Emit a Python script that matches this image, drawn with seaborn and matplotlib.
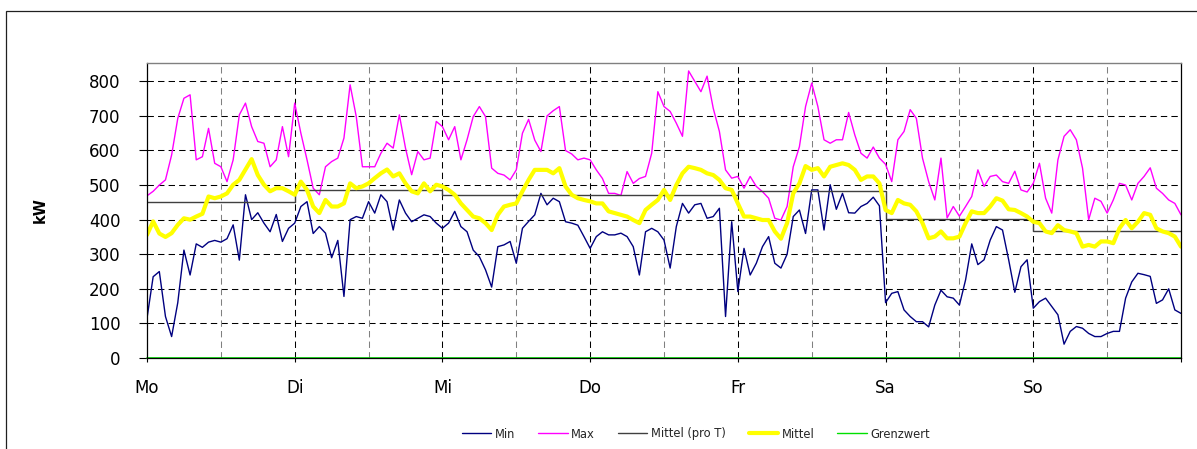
import numpy as np
import matplotlib
matplotlib.use("Agg")
import matplotlib.pyplot as plt
import seaborn as sns
from matplotlib.patches import Rectangle
from matplotlib.lines import Line2D

sns.set_style("white")
plt.rcParams["font.family"] = ["DejaVu Sans"]
plt.rcParams["lines.scale_dashes"] = False

# ---------------- data (kW, hourly, Mo 00:00 .. So 24:00) ----------------
day_labels = ["Mo", "Di", "Mi", "Do", "Fr", "Sa", "So"]

min_mo = [115, 235, 250, 120, 62, 160, 312, 240, 330, 320, 335, 340, 335, 345, 385, 283, 472, 400, 420, 390, 365, 415, 337, 375]
min_di = [390, 438, 452, 360, 380, 361, 290, 340, 178, 400, 409, 404, 452, 419, 472, 452, 370, 457, 419, 394, 404, 414, 409, 390]
min_mi = [375, 390, 424, 380, 365, 312, 293, 255, 205, 322, 327, 337, 274, 375, 395, 414, 476, 443, 462, 452, 394, 390, 384, 351]
min_do = [317, 351, 365, 356, 356, 361, 351, 322, 240, 365, 375, 365, 341, 260, 380, 447, 419, 443, 447, 404, 409, 433, 120, 394]
min_fr = [192, 317, 240, 274, 322, 351, 274, 260, 300, 409, 428, 360, 486, 486, 370, 501, 430, 476, 420, 419, 438, 447, 465, 440]
min_sa = [160, 187, 192, 139, 120, 105, 105, 90, 153, 196, 177, 173, 153, 226, 330, 270, 284, 341, 380, 370, 284, 190, 264, 284]
min_so = [144, 163, 173, 149, 125, 40, 77, 91, 86, 71, 62, 62, 71, 77, 77, 173, 220, 245, 241, 236, 158, 168, 200, 139, 129]

max_mo = [469, 482, 500, 515, 587, 693, 751, 761, 573, 582, 664, 563, 553, 510, 573, 703, 737, 669, 626, 621, 553, 573, 669, 582]
max_di = [737, 650, 573, 491, 472, 553, 568, 578, 636, 790, 698, 553, 553, 553, 592, 621, 607, 703, 607, 530, 597, 573, 578, 684]
max_mi = [669, 631, 669, 573, 631, 698, 727, 698, 549, 534, 529, 515, 544, 650, 690, 630, 597, 700, 715, 727, 600, 590, 573, 578]
max_do = [573, 544, 519, 476, 476, 470, 539, 505, 519, 525, 592, 770, 727, 713, 679, 641, 830, 800, 770, 815, 722, 655, 544, 520]
max_fr = [525, 491, 525, 496, 481, 462, 404, 399, 438, 553, 611, 727, 795, 727, 631, 621, 631, 631, 710, 645, 592, 578, 610, 578]
max_sa = [560, 510, 631, 655, 718, 693, 578, 510, 457, 578, 405, 438, 410, 438, 467, 544, 496, 525, 529, 510, 505, 540, 486, 480]
max_so = [505, 563, 462, 419, 573, 641, 660, 631, 549, 400, 462, 453, 419, 457, 505, 500, 457, 505, 525, 550, 491, 476, 457, 447, 414]

avg_mo = [356, 395, 360, 350, 361, 385, 404, 400, 409, 417, 467, 462, 467, 476, 501, 515, 545, 575, 529, 501, 482, 491, 491, 482]
avg_di = [472, 510, 486, 438, 419, 457, 438, 438, 447, 505, 491, 496, 505, 520, 534, 545, 525, 534, 505, 482, 476, 505, 482, 501]
avg_mi = [496, 486, 472, 447, 428, 409, 404, 390, 370, 414, 438, 443, 447, 482, 515, 544, 544, 544, 534, 549, 496, 472, 462, 457]
avg_do = [453, 447, 447, 424, 419, 414, 409, 399, 390, 428, 443, 457, 486, 457, 500, 534, 553, 549, 544, 534, 529, 515, 491, 486]
avg_fr = [447, 409, 409, 404, 399, 399, 366, 345, 390, 476, 505, 555, 544, 549, 525, 553, 558, 563, 558, 544, 515, 525, 525, 505]
avg_sa = [428, 419, 457, 447, 443, 424, 390, 346, 351, 366, 346, 346, 351, 390, 424, 419, 419, 438, 462, 455, 430, 428, 419, 409]
avg_so = [394, 390, 366, 361, 384, 370, 366, 361, 322, 327, 322, 337, 337, 332, 375, 399, 375, 394, 419, 414, 375, 366, 361, 351, 322]

day_means = [452, 487, 470, 472, 482, 401, 366]   # Mittel (pro T)
grenzwert = 0

series_labels = ["Min", "Max", "Mittel (pro T)", "Mittel", "Grenzwert"]
y_ticks = [0, 100, 200, 300, 400, 500, 600, 700, 800]

kw_min = min_mo + min_di + min_mi + min_do + min_fr + min_sa + min_so
kw_max = max_mo + max_di + max_mi + max_do + max_fr + max_sa + max_so
kw_avg = avg_mo + avg_di + avg_mi + avg_do + avg_fr + avg_sa + avg_so
hours = np.arange(len(kw_min))
kw_day = np.append(np.repeat(day_means, 24), day_means[-1])
kw_lim = np.full(len(hours), grenzwert)

# ---------------- figure ----------------
W, H = 1197, 449
fig = plt.figure(figsize=(W / 100, H / 100), dpi=100)
ax = fig.add_axes([147 / W, 1 - 358 / H, (1181 - 147) / W, (358 - 63) / H])

# grid
dash = (4.6, 3.0)
for yv in y_ticks[1:]:
    ax.axhline(yv, color="black", lw=0.75, dashes=dash, zorder=0.5)
for d in range(1, 7):
    ax.axvline(24 * d, color="black", lw=0.75, dashes=dash, zorder=0.5)
for d in range(7):
    ax.axvline(24 * d + 12, color="#808080", lw=0.75, dashes=dash, zorder=0.5)

sns.lineplot(x=hours, y=kw_min, ax=ax, color="#000080", lw=1.0, zorder=2)
sns.lineplot(x=hours, y=kw_max, ax=ax, color="#FF00FF", lw=1.0, zorder=2.1)
sns.lineplot(x=hours, y=kw_day, ax=ax, color="#404040", lw=1.0, zorder=2.2,
             drawstyle="steps-post")
sns.lineplot(x=hours, y=kw_avg, ax=ax, color="#FFFF00", lw=3.0, zorder=2.3)
sns.lineplot(x=hours, y=kw_lim, ax=ax, color="#00E000", lw=1.2, zorder=2.4,
             clip_on=False)

ax.set_xlim(0, 168)
ax.set_ylim(0, 853)
ax.set_yticks(y_ticks)
ax.set_yticklabels([str(v) for v in y_ticks])
ax.set_xticks(np.arange(0, 169, 24))
ax.set_xticklabels(day_labels + [""])
ax.tick_params(axis="y", left=True, direction="out", length=6, width=0.8,
               pad=13, labelsize=12, colors="black")
ax.tick_params(axis="x", bottom=True, direction="out", length=3, width=0.8,
               pad=12, labelsize=12, colors="black")
ax.set_xlabel("")
ax.set_ylabel("kW", fontsize=10.5, fontweight="bold", color="black")
ax.yaxis.set_label_coords(-0.0957, 0.5)

for side in ["left", "right", "bottom"]:
    ax.spines[side].set_color("black")
    ax.spines[side].set_linewidth(0.9)
ax.spines["top"].set_color("#808080")
ax.spines["top"].set_linewidth(1.0)

# legend
handles = [
    Line2D([], [], color="#000080", lw=1.0),
    Line2D([], [], color="#FF00FF", lw=1.0),
    Line2D([], [], color="#404040", lw=1.0),
    Line2D([], [], color="#FFFF00", lw=3.0),
    Line2D([], [], color="#00E000", lw=1.0),
]
fig.legend(handles, series_labels, loc="center left",
           bbox_to_anchor=(462 / W, 1 - 434 / H), ncol=5, frameon=False,
           fontsize=8.3, handlelength=2.55, handletextpad=0.3,
           columnspacing=2.0, borderpad=0, borderaxespad=0)

# outer frame
fig.add_artist(Rectangle((6 / W, -0.2), 2.0, (1 - 10.5 / H) + 0.2,
                         transform=fig.transFigure, fill=False,
                         edgecolor="#202020", lw=0.9))

fig.savefig("out.png", dpi=100)
